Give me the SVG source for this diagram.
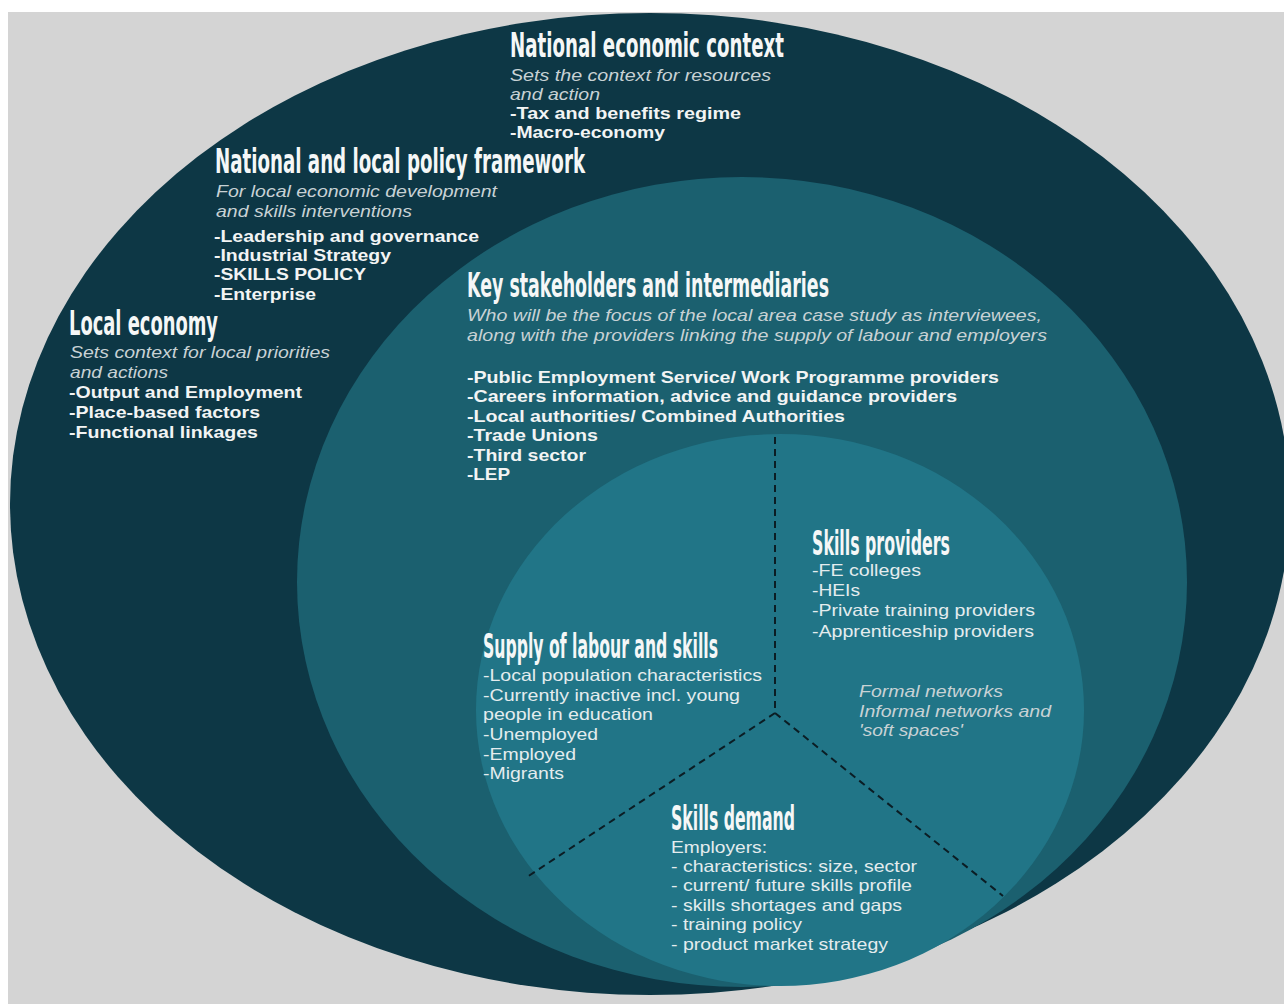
<svg xmlns="http://www.w3.org/2000/svg" width="1284" height="1004" viewBox="0 0 1284 1004">
<style>
.t{font-family:"Liberation Sans Narrow","DejaVu Sans Condensed","Liberation Sans",sans-serif;font-weight:bold;font-size:34px;fill:#f5f7f7}
.i{font-family:"Liberation Sans",Arial,sans-serif;font-style:italic;font-size:17px;fill:#c8d2d5}
.b{font-family:"Liberation Sans",Arial,sans-serif;font-weight:bold;font-size:17px;fill:#f2f4f4}
.r{font-family:"Liberation Sans",Arial,sans-serif;font-size:16.5px;fill:#e4ecee}
.dash{fill:none;stroke:#0b1d24;stroke-width:2;stroke-dasharray:7 5}
</style>
<rect width="1284" height="1004" fill="#ffffff"/>
<rect x="8" y="12" width="1276" height="992" fill="#d4d4d4"/>

<g id="outer">
<ellipse cx="650" cy="504" rx="640" ry="491" fill="#0d3745"/>
</g>
<g id="middle">
<ellipse cx="742" cy="582" rx="445" ry="405" fill="#1b606f"/>
</g>
<g id="inner">
<ellipse cx="780" cy="710" rx="304" ry="276" fill="#217587"/>
</g>

<g id="connectors">
<line class="dash" x1="775" y1="437" x2="775" y2="713"/>
<line class="dash" x1="775" y1="713" x2="527" y2="877"/>
<line class="dash" x1="775" y1="713" x2="1003" y2="896"/>
</g>

<g id="national-economic-context">
<text class="t" x="510" y="57" textLength="274" lengthAdjust="spacingAndGlyphs">National economic context</text>
<text class="i" x="510" y="81" textLength="261" lengthAdjust="spacingAndGlyphs">Sets the context for resources</text>
<text class="i" x="510" y="100" textLength="90" lengthAdjust="spacingAndGlyphs">and action</text>
<text class="b" x="510" y="119" textLength="231" lengthAdjust="spacingAndGlyphs">-Tax and benefits regime</text>
<text class="b" x="510" y="138" textLength="155" lengthAdjust="spacingAndGlyphs">-Macro-economy</text>
</g>

<g id="policy-framework">
<text class="t" x="215" y="173" textLength="370" lengthAdjust="spacingAndGlyphs">National and local policy framework</text>
<text class="i" x="216" y="197" textLength="281" lengthAdjust="spacingAndGlyphs">For local economic development</text>
<text class="i" x="216" y="217" textLength="196" lengthAdjust="spacingAndGlyphs">and skills interventions</text>
<text class="b" x="214" y="242" textLength="265" lengthAdjust="spacingAndGlyphs">-Leadership and governance</text>
<text class="b" x="214" y="261" textLength="177" lengthAdjust="spacingAndGlyphs">-Industrial Strategy</text>
<text class="b" x="214" y="280" textLength="152" lengthAdjust="spacingAndGlyphs">-SKILLS POLICY</text>
<text class="b" x="214" y="300" textLength="102" lengthAdjust="spacingAndGlyphs">-Enterprise</text>
</g>

<g id="local-economy">
<text class="t" x="69" y="335" textLength="149" lengthAdjust="spacingAndGlyphs">Local economy</text>
<text class="i" x="70" y="358" textLength="260" lengthAdjust="spacingAndGlyphs">Sets context for local priorities</text>
<text class="i" x="70" y="378" textLength="98" lengthAdjust="spacingAndGlyphs">and actions</text>
<text class="b" x="69" y="398" textLength="233" lengthAdjust="spacingAndGlyphs">-Output and Employment</text>
<text class="b" x="69" y="418" textLength="191" lengthAdjust="spacingAndGlyphs">-Place-based factors</text>
<text class="b" x="69" y="438" textLength="189" lengthAdjust="spacingAndGlyphs">-Functional linkages</text>
</g>

<g id="key-stakeholders">
<text class="t" x="467" y="297" textLength="362" lengthAdjust="spacingAndGlyphs">Key stakeholders and intermediaries</text>
<text class="i" x="467" y="321" textLength="575" lengthAdjust="spacingAndGlyphs">Who will be the focus of the local area case study as interviewees,</text>
<text class="i" x="467" y="341" textLength="580" lengthAdjust="spacingAndGlyphs">along with the providers linking the supply of labour and employers</text>
<text class="b" x="467" y="383" textLength="532" lengthAdjust="spacingAndGlyphs">-Public Employment Service/ Work Programme providers</text>
<text class="b" x="467" y="402" textLength="490" lengthAdjust="spacingAndGlyphs">-Careers information, advice and guidance providers</text>
<text class="b" x="467" y="422" textLength="378" lengthAdjust="spacingAndGlyphs">-Local authorities/ Combined Authorities</text>
<text class="b" x="467" y="441" textLength="131" lengthAdjust="spacingAndGlyphs">-Trade Unions</text>
<text class="b" x="467" y="461" textLength="119" lengthAdjust="spacingAndGlyphs">-Third sector</text>
<text class="b" x="467" y="480" textLength="43" lengthAdjust="spacingAndGlyphs">-LEP</text>
</g>

<g id="skills-providers">
<text class="t" x="812" y="555" textLength="138" lengthAdjust="spacingAndGlyphs">Skills providers</text>
<text class="r" x="812" y="576" textLength="109" lengthAdjust="spacingAndGlyphs">-FE colleges</text>
<text class="r" x="812" y="596" textLength="48" lengthAdjust="spacingAndGlyphs">-HEIs</text>
<text class="r" x="812" y="616" textLength="223" lengthAdjust="spacingAndGlyphs">-Private training providers</text>
<text class="r" x="812" y="637" textLength="222" lengthAdjust="spacingAndGlyphs">-Apprenticeship providers</text>
</g>

<g id="networks">
<text class="i" x="859" y="697" textLength="144" lengthAdjust="spacingAndGlyphs">Formal networks</text>
<text class="i" x="859" y="717" textLength="192" lengthAdjust="spacingAndGlyphs">Informal networks and</text>
<text class="i" x="859" y="736" textLength="104" lengthAdjust="spacingAndGlyphs">'soft spaces'</text>
</g>

<g id="supply">
<text class="t" x="483" y="658" textLength="235" lengthAdjust="spacingAndGlyphs">Supply of labour and skills</text>
<text class="r" x="483" y="681" textLength="279" lengthAdjust="spacingAndGlyphs">-Local population characteristics</text>
<text class="r" x="483" y="701" textLength="257" lengthAdjust="spacingAndGlyphs">-Currently inactive incl. young</text>
<text class="r" x="483" y="720" textLength="170" lengthAdjust="spacingAndGlyphs">people in education</text>
<text class="r" x="483" y="740" textLength="115" lengthAdjust="spacingAndGlyphs">-Unemployed</text>
<text class="r" x="483" y="760" textLength="93" lengthAdjust="spacingAndGlyphs">-Employed</text>
<text class="r" x="483" y="779" textLength="81" lengthAdjust="spacingAndGlyphs">-Migrants</text>
</g>

<g id="skills-demand">
<text class="t" x="671" y="830" textLength="124" lengthAdjust="spacingAndGlyphs">Skills demand</text>
<text class="r" x="671" y="853" textLength="96" lengthAdjust="spacingAndGlyphs">Employers:</text>
<text class="r" x="671" y="872" textLength="246" lengthAdjust="spacingAndGlyphs">- characteristics: size, sector</text>
<text class="r" x="671" y="891" textLength="241" lengthAdjust="spacingAndGlyphs">- current/ future skills profile</text>
<text class="r" x="671" y="911" textLength="231" lengthAdjust="spacingAndGlyphs">- skills shortages and gaps</text>
<text class="r" x="671" y="930" textLength="131" lengthAdjust="spacingAndGlyphs">- training policy</text>
<text class="r" x="671" y="950" textLength="217" lengthAdjust="spacingAndGlyphs">- product market strategy</text>
</g>
</svg>
